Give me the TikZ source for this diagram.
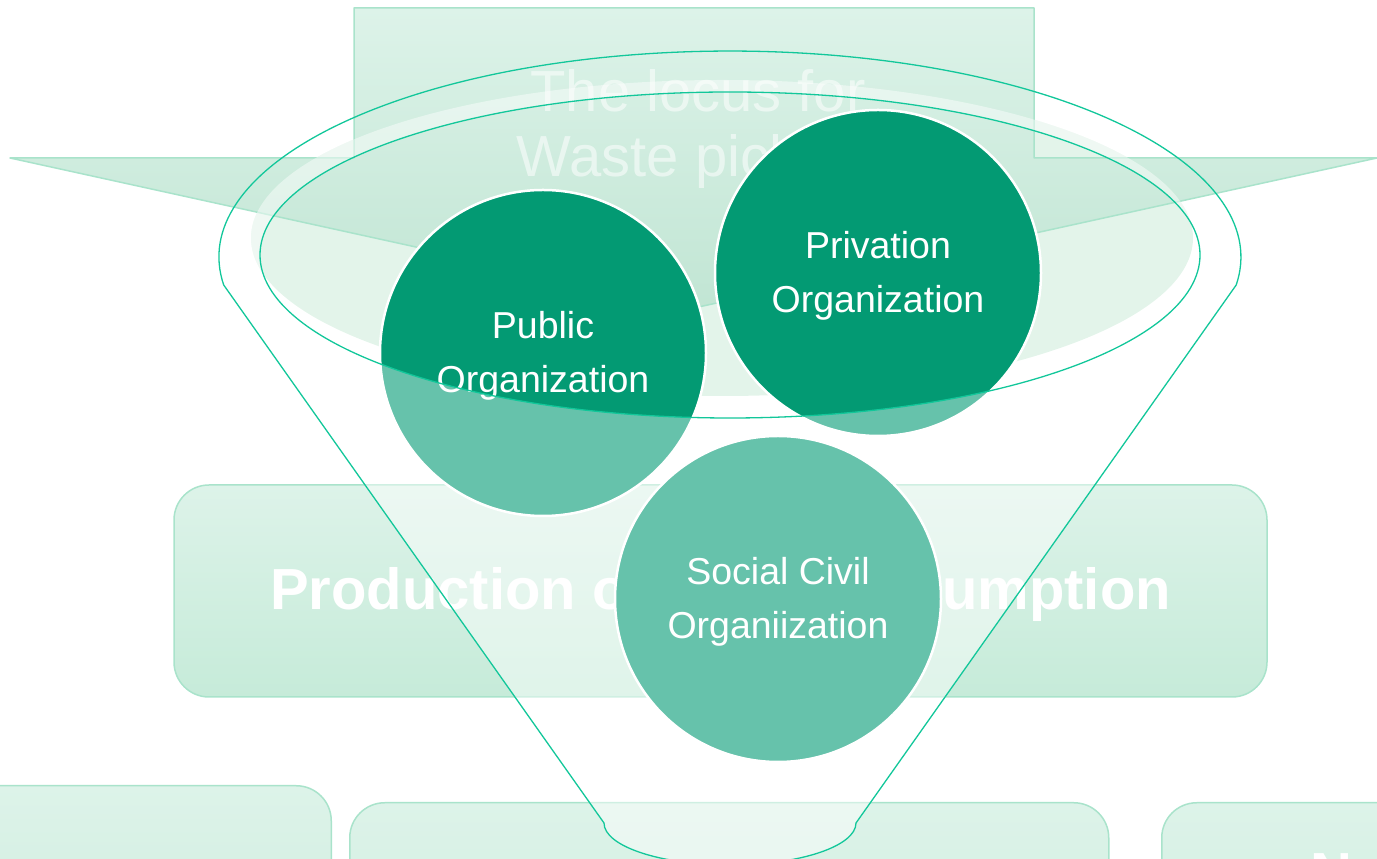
\documentclass[tikz,border=0pt]{standalone}
\usepackage{fontspec}
\setmainfont{Liberation Sans}
\usetikzlibrary{positioning}
\definecolor{rimgreen}{HTML}{12C79A}
\definecolor{darkorg}{HTML}{039A73}
\definecolor{lightorg}{HTML}{66C2AB}
\definecolor{paletop}{HTML}{DDF3E9}
\definecolor{palebottom}{HTML}{C6EBD9}
\definecolor{paleedge}{HTML}{A9E3CB}
\definecolor{mouthfill}{HTML}{E3F4EA}

\begin{document}
\begin{tikzpicture}[x=1pt, y=1pt,
    stagebox/.style={draw=paleedge, line width=1.5pt, rounded corners=35pt, top color=paletop, bottom color=palebottom, text=white, font=\fontsize{58}{65}\selectfont\bfseries, inner sep=0pt},
    orgcircle/.style={circle, draw=white, line width=2.5pt, minimum size=326pt, inner sep=0pt},
    orgtext/.style={align=center, text=white, inner sep=0pt, font=\fontsize{37.5}{54}\selectfont},
    rim/.style={draw=rimgreen, line width=1.3pt}]
        \def\rad{163pt}
        \useasboundingbox (0,0) rectangle (1377,859);
        % mouth of the funnel, under the callout
        \fill[mouthfill] (722,621) ellipse [x radius=471pt, y radius=158pt];
        % callout
        \draw[draw=paleedge, line width=1.5pt, line join=round, top color=paletop, bottom color=palebottom!92!black!30!palebottom]
            (354,851) -- (1034,851) -- (1034,701) -- (1377,701) -- (694,551) -- (10,701) -- (354,701) -- cycle;
        \node[text=white, text opacity=0.55, align=center, font=\fontsize{58}{65}\selectfont, inner sep=0pt] (locus) at (698,729.5) {The locus for\\Waste pickers};
        \begin{scope}
            \clip (722,621) ellipse [x radius=471pt, y radius=158pt];
            \fill[white, opacity=0.45, even odd rule] (0,0) rectangle (1377,859) (730,604) ellipse [x radius=470pt, y radius=163pt];
        \end{scope}
        % stages
        \node[stagebox, minimum width=1093pt, minimum height=212pt, text height=50pt, text depth=12pt] (prod) at (720.5,268) {Production of\hspace{150pt}Consumption};
        \node[stagebox, minimum width=732pt, minimum height=300pt, anchor=north east] (leftbox) at (332,74) {};
        \node[stagebox, minimum width=759pt, minimum height=300pt, anchor=north west] (midbox) at (349,57) {};
        \node[stagebox, minimum width=500pt, minimum height=300pt, anchor=north west] (rightbox) at (1161,57) {};
        \node[text=white, font=\fontsize{58}{65}\selectfont\bfseries, inner sep=0pt, anchor=base west] (rightlabel) at (1310,-35) {N};
        % funnel body
        \begin{scope}
            \clip (0,0) rectangle (1377,460);
            \fill[white, opacity=0.45] (223.7,574) arc[start angle=187.8, end angle=-7.8, x radius=511pt, y radius=206pt] -- (856,36) arc[start angle=0, end angle=-180, x radius=126pt, y radius=42pt] -- cycle;
        \end{scope}
        % organizations
        \coordinate (pubc) at (543,506);
        \coordinate (privc) at (878,586);
        \coordinate (socc) at (778,260);
        \foreach \c in {pubc, privc, socc}
            \fill[lightorg] (\c) circle (\rad);
        \begin{scope}
            \clip (730,604) ellipse [x radius=470pt, y radius=163pt];
            \fill[darkorg] (pubc) circle (\rad) (privc) circle (\rad);
        \end{scope}
        \node[orgcircle] (pub) at (pubc) {};
        \node[orgcircle] (priv) at (privc) {};
        \node[orgcircle] (soc) at (socc) {};
        \node[orgtext, below=3pt of pub.center, anchor=center] (pubtext) {Public\\Organization};
        \node[orgtext, below=3pt of priv.center, anchor=center] (privtext) {Privation\\Organization};
        \node[orgtext, below=3pt of soc.center, anchor=center] (soctext) {Social Civil\\Organiization};
        % funnel outline
        \draw[rim] (223.7,574) arc[start angle=187.8, end angle=-7.8, x radius=511pt, y radius=206pt] -- (856,36) arc[start angle=0, end angle=-180, x radius=126pt, y radius=42pt] -- cycle;
        \draw[rim] (730,604) ellipse [x radius=470pt, y radius=163pt];
\end{tikzpicture}
\end{document}
